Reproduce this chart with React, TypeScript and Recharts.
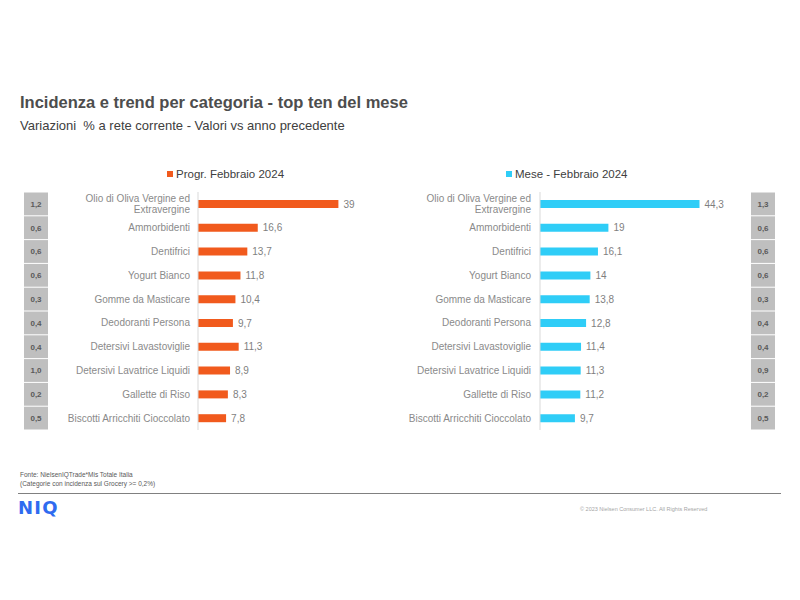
import { BarChart, Bar, XAxis, YAxis, LabelList, Legend } from 'recharts';

const categories = [
  'Olio di Oliva Vergine ed Extravergine',
  'Ammorbidenti',
  'Dentifrici',
  'Yogurt Bianco',
  'Gomme da Masticare',
  'Deodoranti Persona',
  'Detersivi Lavastoviglie',
  'Detersivi Lavatrice Liquidi',
  'Gallette di Riso',
  'Biscotti Arricchiti Cioccolato',
];

const progrValues = [39, 16.6, 13.7, 11.8, 10.4, 9.7, 11.3, 8.9, 8.3, 7.8];
const progrIncidence = [1.2, 0.6, 0.6, 0.6, 0.3, 0.4, 0.4, 1.0, 0.2, 0.5];

const meseValues = [44.3, 19, 16.1, 14, 13.8, 12.8, 11.4, 11.3, 11.2, 9.7];
const meseIncidence = [1.3, 0.6, 0.6, 0.6, 0.3, 0.4, 0.4, 0.9, 0.2, 0.5];

const FONT = '"Liberation Sans", Arial, sans-serif';
const ORANGE = '#f15a1d';
const CYAN = '#2fcdf7';
const CHART_H = 280;
const LEGEND_H = 32;
const BOTTOM = 10;
const BAND = (CHART_H - LEGEND_H - BOTTOM) / categories.length;
const BOX_W = 24;

const progrData = categories.map((name, i) => ({ name, value: progrValues[i] }));
const meseData = categories.map((name, i) => ({ name, value: meseValues[i] }));

const fmt = (v: number) => String(v).replace('.', ',');

// greedy word wrap, enough for the one long label
const wrapLabel = (s: string, max: number) => {
  const words = s.split(' ');
  const lines: string[] = [];
  let cur = '';
  words.forEach((w) => {
    const next = cur ? cur + ' ' + w : w;
    if (next.length > max && cur) {
      lines.push(cur);
      cur = w;
    } else {
      cur = next;
    }
  });
  if (cur) lines.push(cur);
  return lines;
};

const CategoryTick = (props: any) => {
  const { x, y, payload } = props;
  const lines = wrapLabel(String(payload.value), 30);
  const lh = 11;
  const startY = y - ((lines.length - 1) * lh) / 2;
  return (
    <text x={x} y={startY} textAnchor="end" fill="#8a8a8a" fontSize={10} fontFamily={FONT}>
      {lines.map((l, i) => (
        <tspan key={i} x={x} y={startY + i * lh} dy="0.355em">
          {l}
        </tspan>
      ))}
    </text>
  );
};

const makeBoxTick = (values: number[], dx: number) => (props: any) => {
  const { x, y, payload } = props;
  const i = categories.indexOf(payload.value);
  const bx = x + dx;
  return (
    <g>
      <rect x={bx} y={y - BAND / 2 + 0.5} width={BOX_W} height={BAND - 1} fill="#bfbfbf" />
      <text
        x={bx + BOX_W / 2}
        y={y}
        dy="0.355em"
        textAnchor="middle"
        fontSize={8}
        fontWeight="bold"
        fill="#595959"
        fontFamily={FONT}
      >
        {values[i].toFixed(1).replace('.', ',')}
      </text>
    </g>
  );
};

const legendContent = (label: string, color: string, padLeft: number) => () => (
  <div style={{ paddingLeft: padLeft, marginTop: 7, height: 14, display: 'flex', alignItems: 'center' }}>
    <span style={{ display: 'inline-block', width: 6, height: 6, background: color, marginRight: 3 }} />
    <span style={{ fontSize: 11.5, color: '#404040', fontFamily: FONT, lineHeight: '14px' }}>{label}</span>
  </div>
);

export default function App() {
  return (
    <div
      style={{
        position: 'absolute',
        left: 0,
        top: 0,
        width: 800,
        height: 600,
        background: '#fff',
        fontFamily: FONT,
        overflow: 'hidden',
      }}
    >
      <div style={{ position: 'absolute', left: 20, top: 92, fontSize: 16.5, fontWeight: 'bold', color: '#4d4d4d', lineHeight: '20px', whiteSpace: 'nowrap' }}>
        Incidenza e trend per categoria - top ten del mese
      </div>
      <div style={{ position: 'absolute', left: 20, top: 118, fontSize: 13, color: '#404040', lineHeight: '16px', whiteSpace: 'pre' }}>
        {'Variazioni  % a rete corrente - Valori vs anno precedente'}
      </div>

      <div style={{ position: 'absolute', left: 0, top: 160 }}>
        <BarChart
          width={380}
          height={CHART_H}
          data={progrData}
          layout="vertical"
          margin={{ top: 0, right: 2, bottom: BOTTOM, left: 24 }}
        >
          <Legend
            verticalAlign="top"
            height={LEGEND_H}
            wrapperStyle={{ left: 0, top: 0, width: 380 }}
            content={legendContent('Progr. Febbraio 2024', ORANGE, 167)}
          />
          <XAxis type="number" domain={[0, 50]} hide />
          {/* axes stack by id: "a" next to the plot, "b" outside */}
          <YAxis
            yAxisId="a"
            type="category"
            dataKey="name"
            width={150}
            axisLine={{ stroke: '#d9d9d9' }}
            tickLine={false}
            tickSize={0}
            tickMargin={8}
            interval={0}
            tick={<CategoryTick />}
          />
          <YAxis
            yAxisId="b"
            type="category"
            dataKey="name"
            width={BOX_W}
            axisLine={false}
            tickLine={false}
            tickSize={0}
            tickMargin={0}
            interval={0}
            tick={makeBoxTick(progrIncidence, -BOX_W)}
          />
          <Bar yAxisId="a" dataKey="value" fill={ORANGE} barSize={8} isAnimationActive={false}>
            <LabelList dataKey="value" position="right" offset={5} fill="#7f7f7f" fontSize={10} fontFamily={FONT} formatter={(v: any) => fmt(Number(v))} />
          </Bar>
        </BarChart>
      </div>

      <div style={{ position: 'absolute', left: 380, top: 160 }}>
        <BarChart
          width={420}
          height={CHART_H}
          data={meseData}
          layout="vertical"
          margin={{ top: 0, right: 25, bottom: BOTTOM, left: 10 }}
        >
          <Legend
            verticalAlign="top"
            height={LEGEND_H}
            wrapperStyle={{ left: 0, top: 0, width: 420 }}
            content={legendContent('Mese - Febbraio 2024', CYAN, 126)}
          />
          <XAxis type="number" domain={[0, 50]} hide />
          <YAxis
            yAxisId="a"
            type="category"
            dataKey="name"
            width={150}
            axisLine={{ stroke: '#d9d9d9' }}
            tickLine={false}
            tickSize={0}
            tickMargin={9}
            interval={0}
            tick={<CategoryTick />}
          />
          <YAxis
            yAxisId="b"
            type="category"
            dataKey="name"
            orientation="right"
            width={55}
            axisLine={false}
            tickLine={false}
            tickSize={0}
            tickMargin={0}
            interval={0}
            tick={makeBoxTick(meseIncidence, 55 - BOX_W)}
          />
          <Bar yAxisId="a" dataKey="value" fill={CYAN} barSize={8} isAnimationActive={false}>
            <LabelList dataKey="value" position="right" offset={5} fill="#7f7f7f" fontSize={10} fontFamily={FONT} formatter={(v: any) => fmt(Number(v))} />
          </Bar>
        </BarChart>
      </div>

      <div style={{ position: 'absolute', left: 20, top: 470, fontSize: 6.5, color: '#595959', lineHeight: '9px', whiteSpace: 'nowrap' }}>
        Fonte: NielsenIQTrade*Mis Totale Italia
        <br />
        (Categorie con incidenza sul Grocery &gt;= 0,2%)
      </div>
      <div style={{ position: 'absolute', left: 18, top: 493, width: 763, height: 1, background: '#808080' }} />
      <div style={{ position: 'absolute', left: 18, top: 497, fontSize: 18, fontWeight: 'bold', fontFamily: '"DejaVu Sans", sans-serif', color: '#2f6bf0', lineHeight: '22px', letterSpacing: 1.2 }}>
        NIQ
      </div>
      <div style={{ position: 'absolute', left: 580, top: 506, fontSize: 5.5, color: '#a6a6a6', lineHeight: '7px', whiteSpace: 'nowrap' }}>
        © 2023 Nielsen Consumer LLC. All Rights Reserved
      </div>
    </div>
  );
}
